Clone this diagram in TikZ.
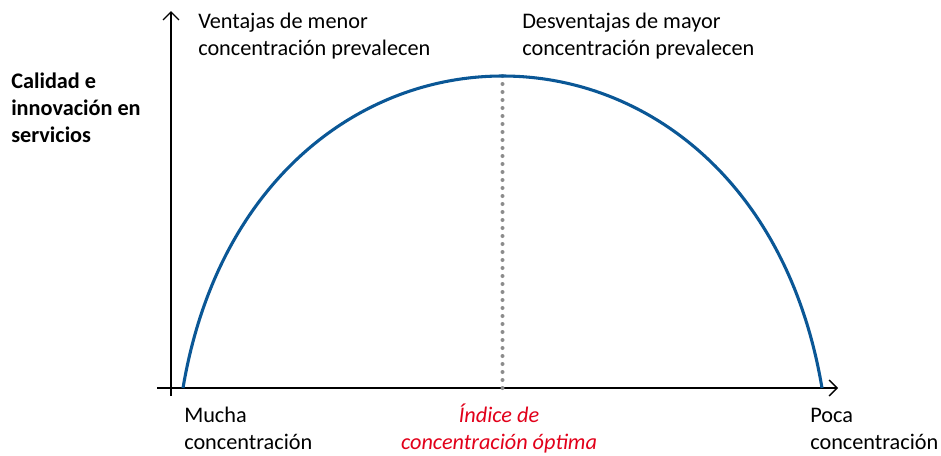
\documentclass[tikz,border=0pt]{standalone}
\usepackage{fontspec}
\setmainfont{Carlito}
\usetikzlibrary{arrows.meta}
\definecolor{curveblue}{HTML}{0A5796}
\definecolor{optred}{HTML}{E2001A}
\definecolor{dotgray}{HTML}{8C8C8C}
\tikzset{
  axis/.style={draw=black, line width=1pt, -{Straight Barb[length=6pt,width=12pt,line width=1pt]}},
  lbl/.style={inner sep=0pt, anchor=base west, align=left, font=\fontsize{16.7}{20.25}\selectfont, text=black},
  ylbl/.style={lbl, font=\bfseries\fontsize{16.7}{20.25}\selectfont},
  optlbl/.style={inner sep=0pt, anchor=base, align=center, font=\itshape\fontsize{16.7}{20.25}\selectfont, text=optred},
  curve/.style={draw=curveblue, line width=2.3pt},
  optline/.style={draw=dotgray, line width=3pt, line cap=round, dash pattern=on 0pt off 6pt}
}
\begin{document}
\begin{tikzpicture}[x=0.75pt,y=-0.75pt]
\useasboundingbox[fill=white] (0,0) rectangle (941,455);
% axes
\coordinate (ybot) at (171,396);
\coordinate (ytop) at (171,11);
\coordinate (xleft) at (157,388);
\coordinate (xright) at (838,388);
\draw[axis] (ybot) -- (ytop);
\draw[axis] (xleft) -- (xright);
% curve
\coordinate (cstart) at (183,388);
\coordinate (cend) at (822,388);
\coordinate (peak) at (502.5,76);
\coordinate (peakfoot) at (502.5,388);
\draw[optline] (peak) -- (peakfoot);
\draw[curve] (cstart) .. controls (253,-28) and (752,-28) .. (cend);
% labels (anchor at the baseline of the last line)
\node[ylbl] (ylabel) at (11,142) {Calidad e\\innovación en\\servicios};
\node[lbl] (ventajas) at (198,55) {Ventajas de menor\\concentración prevalecen};
\node[lbl] (desventajas) at (522,55) {Desventajas de mayor\\concentración prevalecen};
\node[lbl] (mucha) at (184,449) {Mucha\\concentración};
\node[lbl] (poca) at (810,449) {Poca\\concentración};
\node[optlbl] (indice) at (499,449) {Índice de\\concentración óptima};
\end{tikzpicture}
\end{document}
